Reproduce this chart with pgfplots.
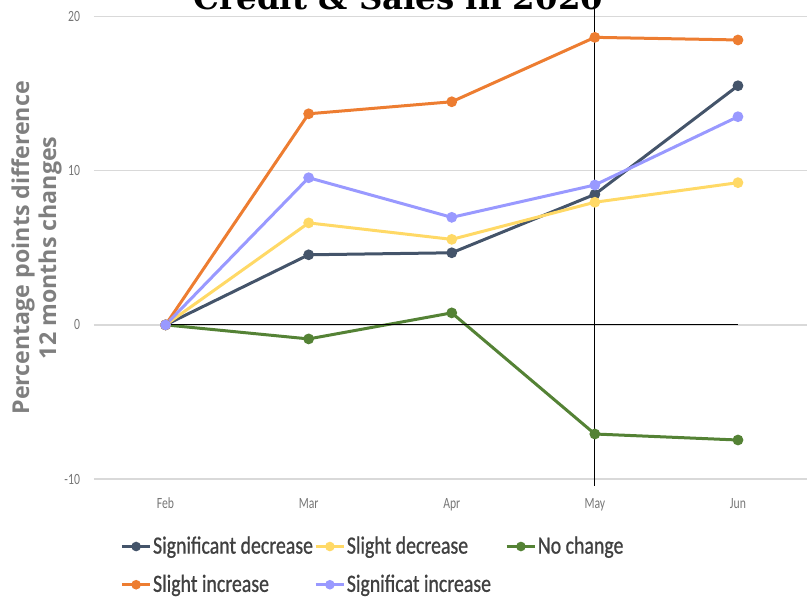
\documentclass[border=0pt]{standalone}
\usepackage{pgfplots}
\pgfplotsset{compat=1.18}
\usepackage{fontspec}
\setmainfont{Carlito}
\newfontfamily\legfont[FakeStretch=0.8,FakeBold=0.8]{Carlito}
\newfontfamily\tickfont[FakeStretch=0.75]{Carlito}
\newfontfamily\labfont{Open Sans}
\newfontfamily\titlefont{DejaVu Serif}
\definecolor{cnavy}{HTML}{44546A}
\definecolor{cyellow}{HTML}{FFD966}
\definecolor{cgreen}{HTML}{548235}
\definecolor{corange}{HTML}{ED7D31}
\definecolor{cpurple}{HTML}{9999FF}
\definecolor{cgrid}{HTML}{D9D9D9}
\definecolor{ctick}{HTML}{767676}
\definecolor{clab}{HTML}{7F7F7F}
\definecolor{cleg}{HTML}{404040}
\begin{document}
\begin{tikzpicture}
\begin{axis}[
  at={(0,0)}, anchor=south west,
  scale only axis,
  width=357.75pt, height=231.15pt,
  xmin=-0.5, xmax=4.5,
  ymin=-10, ymax=20,
  xtick={0,1,2,3,4},
  xticklabels={Feb,Mar,Apr,May,Jun},
  ytick={-10,0,10,20},
  ymajorgrids,
  grid style={cgrid, line width=0.6pt},
  axis line style={draw=none},
  major tick length=0pt,
  /pgf/number format/assume math mode=true,
  xticklabel style={font=\tickfont\fontsize{7.8}{9}\selectfont, text=ctick, yshift=-6pt},
  yticklabel style={font=\tickfont\fontsize{7.8}{9}\selectfont, text=ctick, xshift=-3.5pt},
  ylabel={Percentage points difference\\12 months changes},
  ylabel style={at={(axis description cs:-0.0804,0.5)}, anchor=center,
    align=center, font=\labfont\bfseries\fontsize{11.6}{13.5}\selectfont, text=clab},
  clip=false,
  every axis plot/.append style={line width=1.5pt, mark=*, mark size=1.9pt},
  legend columns=3,
  legend cell align=left,
  legend style={at={(axis description cs:0,0)}, anchor=north west,
    xshift=13pt, yshift=-26.5pt, draw=none, fill=none, inner sep=0pt,
    font=\legfont\fontsize{12.4}{14}\selectfont, text=cleg,
    nodes={inner xsep=0.6pt},
    row sep=5pt,
    /tikz/column 4/.style={column sep=6.5pt}},
  legend image code/.code={\draw[mark repeat=2,mark phase=2,mark size=1.6pt,#1] plot coordinates {(0cm,0cm)(0.25cm,0cm)(0.5cm,0cm)};},
]
\addplot[color=cnavy, mark options={fill=cnavy}] coordinates {(0,0) (1,4.55) (2,4.68) (3,8.47) (4,15.52)};
\addlegendentry{Significant decrease}
\addplot[color=cyellow, mark options={fill=cyellow}] coordinates {(0,0) (1,6.62) (2,5.55) (3,7.96) (4,9.23)};
\addlegendentry{Slight decrease}
\addplot[color=cgreen, mark options={fill=cgreen}] coordinates {(0,0) (1,-0.91) (2,0.78) (3,-7.08) (4,-7.47)};
\addlegendentry{No change}
\addplot[color=corange, mark options={fill=corange}] coordinates {(0,0) (1,13.7) (2,14.48) (3,18.66) (4,18.49)};
\addlegendentry{Slight increase}
\addplot[color=cpurple, mark options={fill=cpurple}] coordinates {(0,0) (1,9.55) (2,6.98) (3,9.08) (4,13.51)};
\addlegendentry{Significat increase}
\draw[black, line width=0.5pt] (axis cs:0,0) -- (axis cs:4,0);
\draw[black, line width=0.5pt] (axis cs:3,-10.45) -- (axis cs:3,21.6);
\end{axis}
\node[anchor=base, font=\titlefont\bfseries\fontsize{16.2}{18}\selectfont, inner sep=0pt] at (152.25pt,234.5pt) {Credit \& Sales in 2020};
\pgfresetboundingbox
\path[use as bounding box] (-47pt,-60pt) rectangle (356.5pt,239.5pt);
\end{tikzpicture}
\end{document}
